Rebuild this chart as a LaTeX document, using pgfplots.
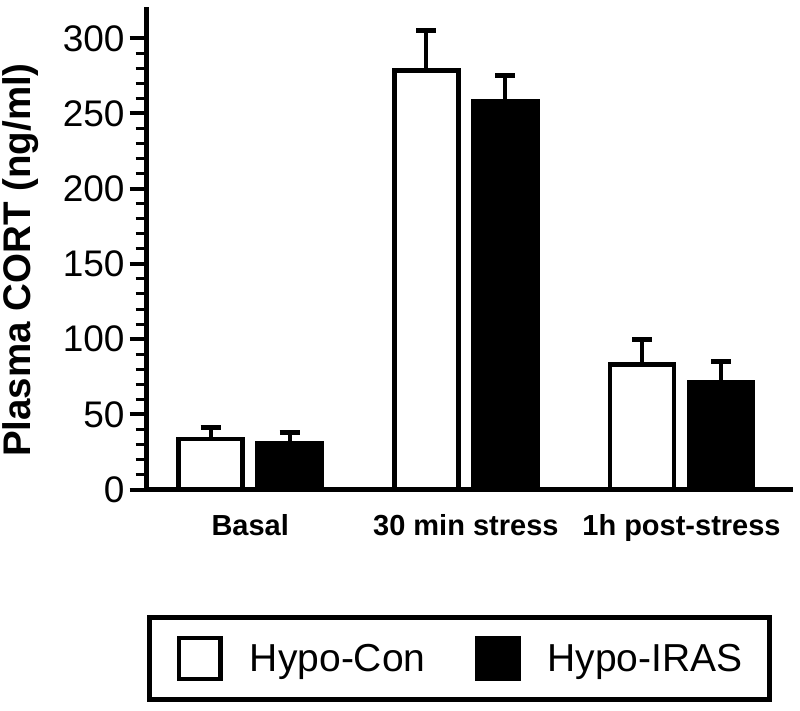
\documentclass[border=0pt]{standalone}
\usepackage{fontspec}
\setmainfont{Liberation Sans}
\usepackage{pgfplots}
\pgfplotsset{compat=1.18}
\begin{document}
\begin{tikzpicture}
\path[use as bounding box] (0pt,0pt) rectangle (800pt,-711pt);
\begin{axis}[
  at={(146.7pt,-489.5pt)}, anchor=south west,
  scale only axis, width=646.3pt, height=482.5pt,
  xmin=-0.48, xmax=2.517, ymin=0, ymax=320.8,
  axis lines*=left,
  axis line style={line width=4.5pt},
  ytick={0,50,...,300}, minor y tick num=4,
  tick align=outside,
  major tick length=17pt, minor tick length=11pt,
  major y tick style={line width=4pt, black},
  minor y tick style={line width=3pt, black},
  xtick={0,1,2},
  xticklabels={Basal,30 min stress,1h post-stress},
  major x tick style={draw=none},
  /pgf/number format/assume math mode=true,
  yticklabel style={font=\fontsize{37}{37}\selectfont, inner sep=0pt, xshift=-5pt},
  xticklabel style={font=\fontsize{29}{29}\selectfont\bfseries, inner sep=0pt, yshift=-8pt},
  ylabel={Plasma CORT (ng/ml)},
  ylabel style={font=\fontsize{38.5}{38.5}\selectfont\bfseries, at={(axis description cs:-0.1945,0.4756)}, anchor=center},
  error bars/y dir=plus, error bars/y explicit,
  error bars/error bar style={line width=4pt, black},
  error bars/error mark options={rotate=90, line width=5pt, mark size=10pt, black},
  legend columns=2,
  legend style={at={(axis description cs:0.0012,-0.2591)}, anchor=north west,
    draw=black, line width=5pt, inner xsep=27pt, inner ysep=18.5pt,
    font=\fontsize{39}{39}\selectfont,
    nodes={inner sep=0pt},
    /tikz/every odd column/.append style={column sep=27pt},
    /tikz/every even column/.append style={column sep=49pt}},
]
\addplot[ybar, bar width=64pt, bar shift=0pt, fill=white, draw=black, line width=4.5pt,
  legend image code/.code={\draw[fill=white, draw=black, line width=4.5pt] (0pt,-20.5pt) rectangle (41.5pt,20.5pt);}]
  coordinates {(-0.1831,33.6) +- (0,7.9) (0.8169,278.6) +- (0,26.7) (1.8169,83.1) +- (0,16.9)};
\addlegendentry{Hypo-Con}
\addplot[ybar, bar width=64pt, bar shift=0pt, fill=black, draw=black, line width=4.5pt,
  legend image code/.code={\draw[fill=black, draw=black, line width=4.5pt] (0pt,-20.5pt) rectangle (41.5pt,20.5pt);}]
  coordinates {(0.1831,30.5) +- (0,7.1) (1.1831,258) +- (0,17.4) (2.1831,71.3) +- (0,13.5)};
\addlegendentry{Hypo-IRAS}
\end{axis}
\end{tikzpicture}
\end{document}
